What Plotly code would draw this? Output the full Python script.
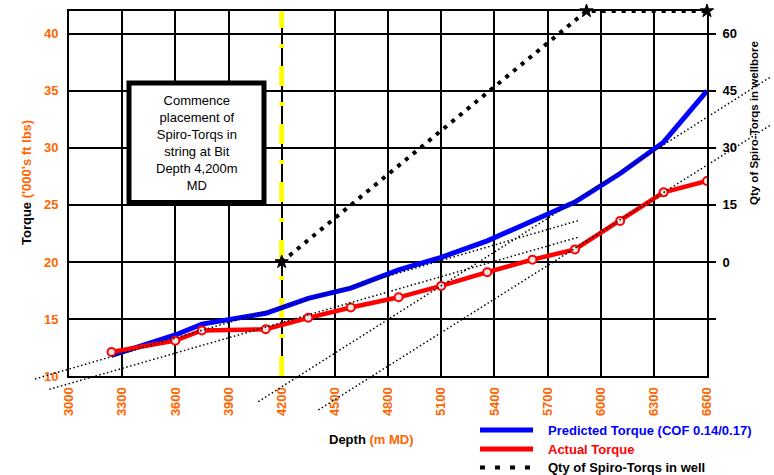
import plotly.graph_objects as go

# ---------------- data ----------------
depth_m = [3240, 3600, 3750, 4110, 4350, 4590, 4860, 5100, 5360, 5615, 5855, 6110, 6355, 6600]
predicted_torque = [11.8, 13.6, 14.55, 15.5, 16.8, 17.7, 19.3, 20.4, 21.85, 23.55, 25.25, 27.75, 30.5, 35.0]
actual_torque = [12.1, 13.1, 14.0, 14.1, 15.1, 16.0, 16.9, 17.9, 19.1, 20.2, 21.1, 23.6, 26.1, 27.1]

spiro_depth = [4200, 5920, 6600]
spiro_qty = [0, 66, 66]

bit_depth_start = 4200

# linear trendlines (depth m, torque '000 ft lbs) start / end
trend_depth_start = [2808, 2889, 4068, 4407]
trend_torque_start = [9.74, 8.83, 7.75, 7.02]
trend_depth_end = [5872, 5872, 6956, 6956]
trend_torque_end = [23.62, 22.16, 36.19, 31.97]

depth_ticks = [3000, 3300, 3600, 3900, 4200, 4500, 4800, 5100, 5400, 5700, 6000, 6300, 6600]
torque_ticks = [10, 15, 20, 25, 30, 35, 40]
qty_tickvals = [-15, 0, 15, 30, 45, 60]
qty_ticktext = ["", "0", "15", "30", "45", "60"]

depth_range = [3000, 6600]
torque_range = [10, 42]
qty_range = [-30, 66]

# ---------------- layout constants ----------------
W, H = 774, 475
PL, PR, PT, PB = 69, 707, 11, 376  # plot area in px
ORANGE = "#FF6600"
FONT = "Liberation Sans, Arial, sans-serif"

x_dom = [PL / W, PR / W]
y_dom = [1 - PB / H, 1 - PT / H]

# overlay axes spanning whole figure, aligned with main axes (for trendlines that overflow)
dpp_x = (depth_range[1] - depth_range[0]) / (PR - PL)
dpp_y = (torque_range[1] - torque_range[0]) / (PB - PT)
x3_range = [depth_range[0] - PL * dpp_x, depth_range[1] + (W - PR) * dpp_x]
y3_range = [torque_range[0] - (H - PB) * dpp_y, torque_range[1] + PT * dpp_y]


def px(xp):
    return xp / W


def py(yp):
    return 1 - yp / H


fig = go.Figure()

# bit depth marker line
fig.add_trace(go.Scatter(
    x=[bit_depth_start, bit_depth_start], y=torque_range, mode="lines",
    line=dict(color="#FFFF00", width=5, dash="20px,18px,4px,16px"),
    hoverinfo="skip", showlegend=False))

fig.add_trace(go.Scatter(
    x=depth_m, y=predicted_torque, mode="lines", name="Predicted Torque (COF 0.14/0.17)",
    line=dict(color="#0000FF", width=5), showlegend=False))

fig.add_trace(go.Scatter(
    x=depth_m, y=actual_torque, mode="lines+markers", name="Actual Torque",
    line=dict(color="#FF0000", width=4.5),
    marker=dict(symbol="circle", size=8, color="#E8E8E8", line=dict(color="#FF0000", width=2)),
    showlegend=False))

fig.add_trace(go.Scatter(
    x=spiro_depth, y=spiro_qty, mode="lines+markers", name="Qty of Spiro-Torqs in well",
    yaxis="y2", line=dict(color="black", width=4, dash="4px,6px"),
    marker=dict(symbol="star", size=10, color="black", line=dict(color="black", width=1)),
    cliponaxis=False, showlegend=False))

for i in range(len(trend_depth_start)):
    fig.add_trace(go.Scatter(
        x=[trend_depth_start[i], trend_depth_end[i]],
        y=[trend_torque_start[i], trend_torque_end[i]],
        mode="lines", xaxis="x3", yaxis="y3",
        line=dict(color="black", width=1.5, dash="1.5px,2.5px"),
        hoverinfo="skip", showlegend=False))

axis_common = dict(showline=True, linecolor="black", linewidth=2, mirror=True,
                   showgrid=True, gridcolor="black", gridwidth=2, zeroline=False, ticks="")

fig.update_layout(
    width=W, height=H, autosize=False,
    margin=dict(l=0, r=0, t=0, b=0, pad=0),
    paper_bgcolor="white", plot_bgcolor="rgba(0,0,0,0)",
    showlegend=False,
    font=dict(family=FONT, color="black"),
    xaxis=dict(domain=x_dom, range=depth_range, tickvals=depth_ticks, tickangle=-90,
               tickfont=dict(family=FONT, size=13, color=ORANGE, weight="bold"),
               ticklabelstandoff=4, anchor="y", automargin=False, **axis_common),
    yaxis=dict(domain=y_dom, range=torque_range, tickvals=torque_ticks,
               tickfont=dict(family=FONT, size=13, color=ORANGE, weight="bold"),
               ticklabelstandoff=6, anchor="x", automargin=False, **axis_common),
    yaxis2=dict(overlaying="y", side="right", anchor="x", range=qty_range,
                tickvals=qty_tickvals, ticktext=qty_ticktext,
                ticks="outside", ticklen=8, tickwidth=2, tickcolor="black",
                tickfont=dict(family=FONT, size=13, color="black", weight="bold"),
                ticklabelstandoff=4,
                showgrid=False, zeroline=False, showline=False, automargin=False),
    xaxis3=dict(domain=[0, 1], anchor="y3", range=x3_range, visible=False, fixedrange=True),
    yaxis3=dict(domain=[0, 1], anchor="x3", range=y3_range, visible=False, fixedrange=True),
)

shapes = []
annotations = []

# note box
shapes.append(dict(type="rect", xref="paper", yref="paper",
                   x0=px(129), x1=px(264), y0=py(202.5), y1=py(83),
                   line=dict(color="black", width=5), fillcolor="white", layer="above"))
annotations.append(dict(
    xref="paper", yref="paper", x=px(196.7), y=py(143), xanchor="center", yanchor="middle",
    text="Commence<br>placement of<br>Spiro-Torqs in<br>string at Bit<br>Depth 4,200m<br>MD",
    showarrow=False, align="center", font=dict(family=FONT, size=13, color="black")))

# axis titles
annotations.append(dict(
    xref="paper", yref="paper", x=px(371), y=py(439), xanchor="center", yanchor="middle",
    text='<b>Depth <span style="color:%s">(m MD)</span></b>' % ORANGE,
    showarrow=False, font=dict(family=FONT, size=13, color="black")))
annotations.append(dict(
    xref="paper", yref="paper", x=px(26), y=py(183), xanchor="center", yanchor="middle",
    text='<b>Torque <span style="color:%s">(\'000\'s ft lbs)</span></b>' % ORANGE, textangle=-90,
    showarrow=False, font=dict(family=FONT, size=13, color="black")))
annotations.append(dict(
    xref="paper", yref="paper", x=px(754), y=py(123), xanchor="center", yanchor="middle",
    text="<b>Qty of Spiro-Torqs in wellbore</b>", textangle=-90,
    showarrow=False, font=dict(family=FONT, size=11.5, color="black")))

# legend (drawn manually)
legend_items = [
    ("Predicted Torque (COF 0.14/0.17)", "#0000FF", "solid", 5, 430),
    ("Actual Torque", "#FF0000", "solid", 5, 449),
    ("Qty of Spiro-Torqs in well", "black", "5px,10px", 4, 467.5),
]
for label, col, dash, wid, yy in legend_items:
    shapes.append(dict(type="line", xref="paper", yref="paper",
                       x0=px(480), x1=px(533), y0=py(yy), y1=py(yy),
                       line=dict(color=col, width=wid, dash=dash)))
    annotations.append(dict(
        xref="paper", yref="paper", x=px(546), y=py(yy), xanchor="left", yanchor="middle",
        text="<b>%s</b>" % label, showarrow=False,
        font=dict(family=FONT, size=13, color=col)))

fig.update_layout(shapes=shapes, annotations=annotations)

fig.write_html("out.html", config={"displayModeBar": False},
               post_script="document.body.style.margin='0';document.body.style.overflow='hidden';")
